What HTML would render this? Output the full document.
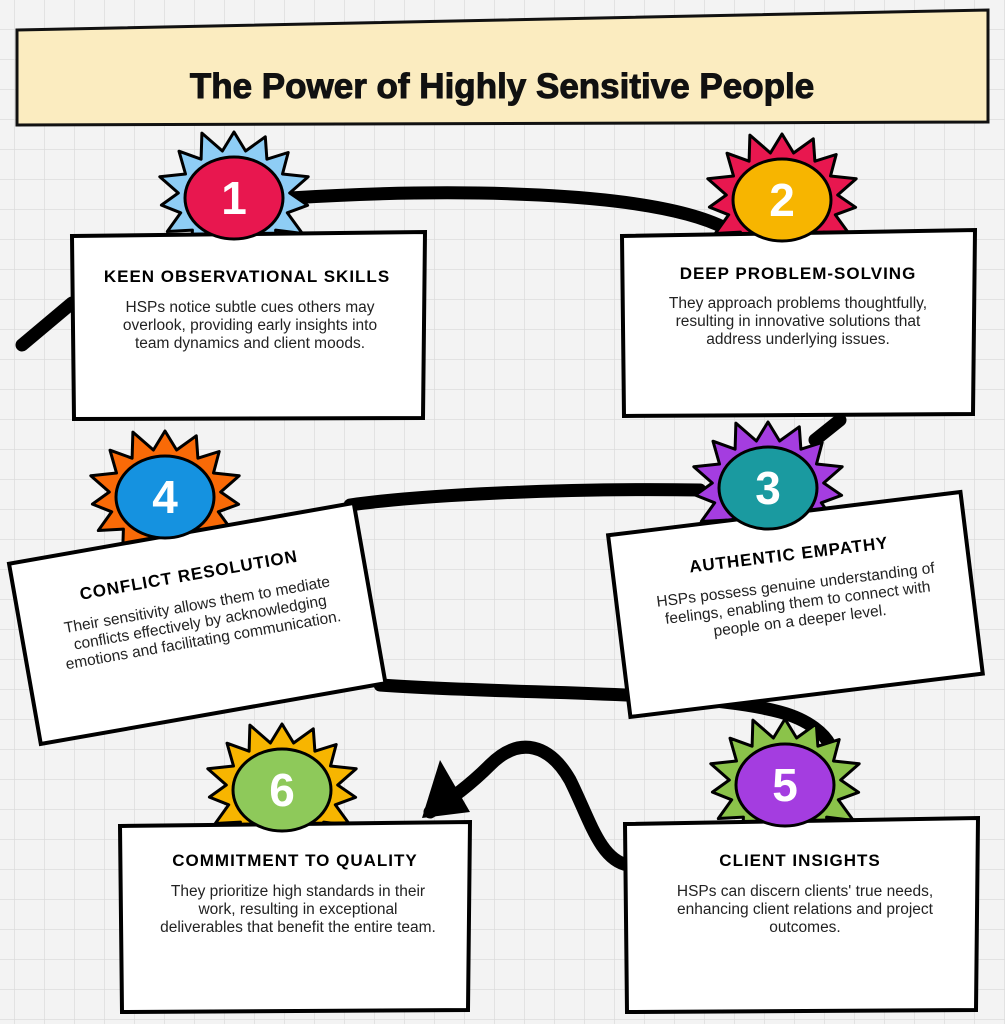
<!DOCTYPE html>
<html><head><meta charset="utf-8">
<style>
html,body{margin:0;padding:0;width:1005px;height:1024px;overflow:hidden;background:#f3f3f3;}
svg{display:block;}
.t{font-family:"Liberation Sans",sans-serif;}
</style></head>
<body>
<svg id="s" width="1005" height="1024" viewBox="0 0 1005 1024" xmlns="http://www.w3.org/2000/svg">
<defs>
<pattern id="g" width="30" height="30" patternUnits="userSpaceOnUse" x="15" y="0">
<path d="M30 0V30M0 30H30" stroke="#dcdcdc" stroke-width="1.5" fill="none"/>
</pattern>
</defs>
<rect width="1005" height="1024" fill="#f3f3f3"/>
<rect width="1005" height="1024" fill="url(#g)"/>

<polygon points="17,30 988,10 988,122 17,125" fill="#fbecc0" stroke="#111" stroke-width="3"/>
<text x="502" y="98" text-anchor="middle" class="t" font-size="35" font-weight="bold" fill="#111" stroke="#111" stroke-width="1">The Power of Highly Sensitive People</text>

<g stroke="#000" stroke-width="13" fill="none" stroke-linecap="round">
<path d="M290,198 C450,188 650,190 725,228"/>
<path d="M72,303 L22,345"/>
<path d="M815,440 L840,420"/>
<path d="M700,490 C560,488 420,495 350,505"/>
<path d="M380,685 C520,695 700,690 780,712 C810,720 825,735 830,745"/>
<path d="M628,865 C600,860 590,820 570,780 C550,745 520,735 490,765 C470,785 450,800 430,812"/>
</g>
<polygon points="422,818 440,760 470,812" fill="#000"/>

<g id="bursts"></g>

<polygon points="72,236 425,232 423,418 74,419" fill="#fff" stroke="#000" stroke-width="4"/>
<text class="t" x="247" y="282" text-anchor="middle" font-size="17" font-weight="bold" letter-spacing="1">KEEN OBSERVATIONAL SKILLS</text>
<g class="t" font-size="15.5" text-anchor="middle" fill="#222">
<text x="250" y="312">HSPs notice subtle cues others may</text>
<text x="250" y="330">overlook, providing early insights into</text>
<text x="250" y="348">team dynamics and client moods.</text>
</g>

<polygon points="622,236 975,230 973,414 624,416" fill="#fff" stroke="#000" stroke-width="4"/>
<text class="t" x="798" y="279" text-anchor="middle" font-size="17" font-weight="bold" letter-spacing="1">DEEP PROBLEM-SOLVING</text>
<g class="t" font-size="15.5" text-anchor="middle" fill="#222">
<text x="798" y="308">They approach problems thoughtfully,</text>
<text x="798" y="326">resulting in innovative solutions that</text>
<text x="798" y="344">address underlying issues.</text>
</g>

<g transform="rotate(-7 795 605)">
<rect x="618" y="513" width="355" height="183" fill="#fff" stroke="#000" stroke-width="4"/>
<text class="t" x="795" y="560" text-anchor="middle" font-size="17" font-weight="bold" letter-spacing="1">AUTHENTIC EMPATHY</text>
<g class="t" font-size="15.5" text-anchor="middle" fill="#222">
<text x="798" y="590">HSPs possess genuine understanding of</text>
<text x="798" y="608">feelings, enabling them to connect with</text>
<text x="798" y="626">people on a deeper level.</text>
</g>
</g>

<g transform="rotate(-10 197 622)">
<rect x="22" y="532" width="350" height="183" fill="#fff" stroke="#000" stroke-width="4"/>
<text class="t" x="197" y="580" text-anchor="middle" font-size="17" font-weight="bold" letter-spacing="1">CONFLICT RESOLUTION</text>
<g class="t" font-size="15.5" text-anchor="middle" fill="#222">
<text x="200" y="610">Their sensitivity allows them to mediate</text>
<text x="200" y="628">conflicts effectively by acknowledging</text>
<text x="200" y="646">emotions and facilitating communication.</text>
</g>
</g>

<polygon points="625,824 978,818 976,1010 627,1012" fill="#fff" stroke="#000" stroke-width="4"/>
<text class="t" x="800" y="866" text-anchor="middle" font-size="17" font-weight="bold" letter-spacing="1">CLIENT INSIGHTS</text>
<g class="t" font-size="15.5" text-anchor="middle" fill="#222">
<text x="805" y="896">HSPs can discern clients' true needs,</text>
<text x="805" y="914">enhancing client relations and project</text>
<text x="805" y="932">outcomes.</text>
</g>

<polygon points="120,826 470,822 468,1010 122,1012" fill="#fff" stroke="#000" stroke-width="4"/>
<text class="t" x="295" y="866" text-anchor="middle" font-size="17" font-weight="bold" letter-spacing="1">COMMITMENT TO QUALITY</text>
<g class="t" font-size="15.5" text-anchor="middle" fill="#222">
<text x="298" y="896">They prioritize high standards in their</text>
<text x="298" y="914">work, resulting in exceptional</text>
<text x="298" y="932">deliverables that benefit the entire team.</text>
</g>
<g id="circles"></g>
</svg>
<script>
var B=[[234,198,"#8ecdf5","#e8174f","1"],[782,200,"#e8174f","#f7b500","2"],[768,488,"#a43de0","#1a9aa0","3"],[165,497,"#f96a07","#1592e0","4"],[785,785,"#8bc34a","#a43de0","5"],[282,790,"#f7b500","#8ec95a","6"]];
var ns="http://www.w3.org/2000/svg",g=document.getElementById("bursts"),g2=document.getElementById("circles");
B.forEach(function(b){
 var cx=b[0],cy=b[1],pts=[],n=15;
 for(var i=0;i<n*2;i++){var a=Math.PI*i/n-Math.PI/2;var r=i%2?56:(72+(i*7%9));var ry=i%2?48:(66+(i*5%9));pts.push((cx+Math.cos(a)*r).toFixed(1)+","+(cy+Math.sin(a)*ry).toFixed(1));}
 var p=document.createElementNS(ns,"polygon");p.setAttribute("points",pts.join(" "));p.setAttribute("fill",b[2]);p.setAttribute("stroke","#000");p.setAttribute("stroke-width","3");p.setAttribute("stroke-linejoin","round");
 var c=document.createElementNS(ns,"ellipse");c.setAttribute("cx",cx);c.setAttribute("cy",cy);c.setAttribute("rx",49);c.setAttribute("ry",41);c.setAttribute("fill",b[3]);c.setAttribute("stroke","#000");c.setAttribute("stroke-width","3");
 var t=document.createElementNS(ns,"text");t.setAttribute("x",cx);t.setAttribute("y",cy+16);t.setAttribute("text-anchor","middle");t.setAttribute("font-size","46");t.setAttribute("font-weight","bold");t.setAttribute("fill","#fff");t.setAttribute("font-family","Liberation Sans, sans-serif");t.textContent=b[4];
 g.appendChild(p);g2.appendChild(c);g2.appendChild(t);
});
</script>
</body></html>
